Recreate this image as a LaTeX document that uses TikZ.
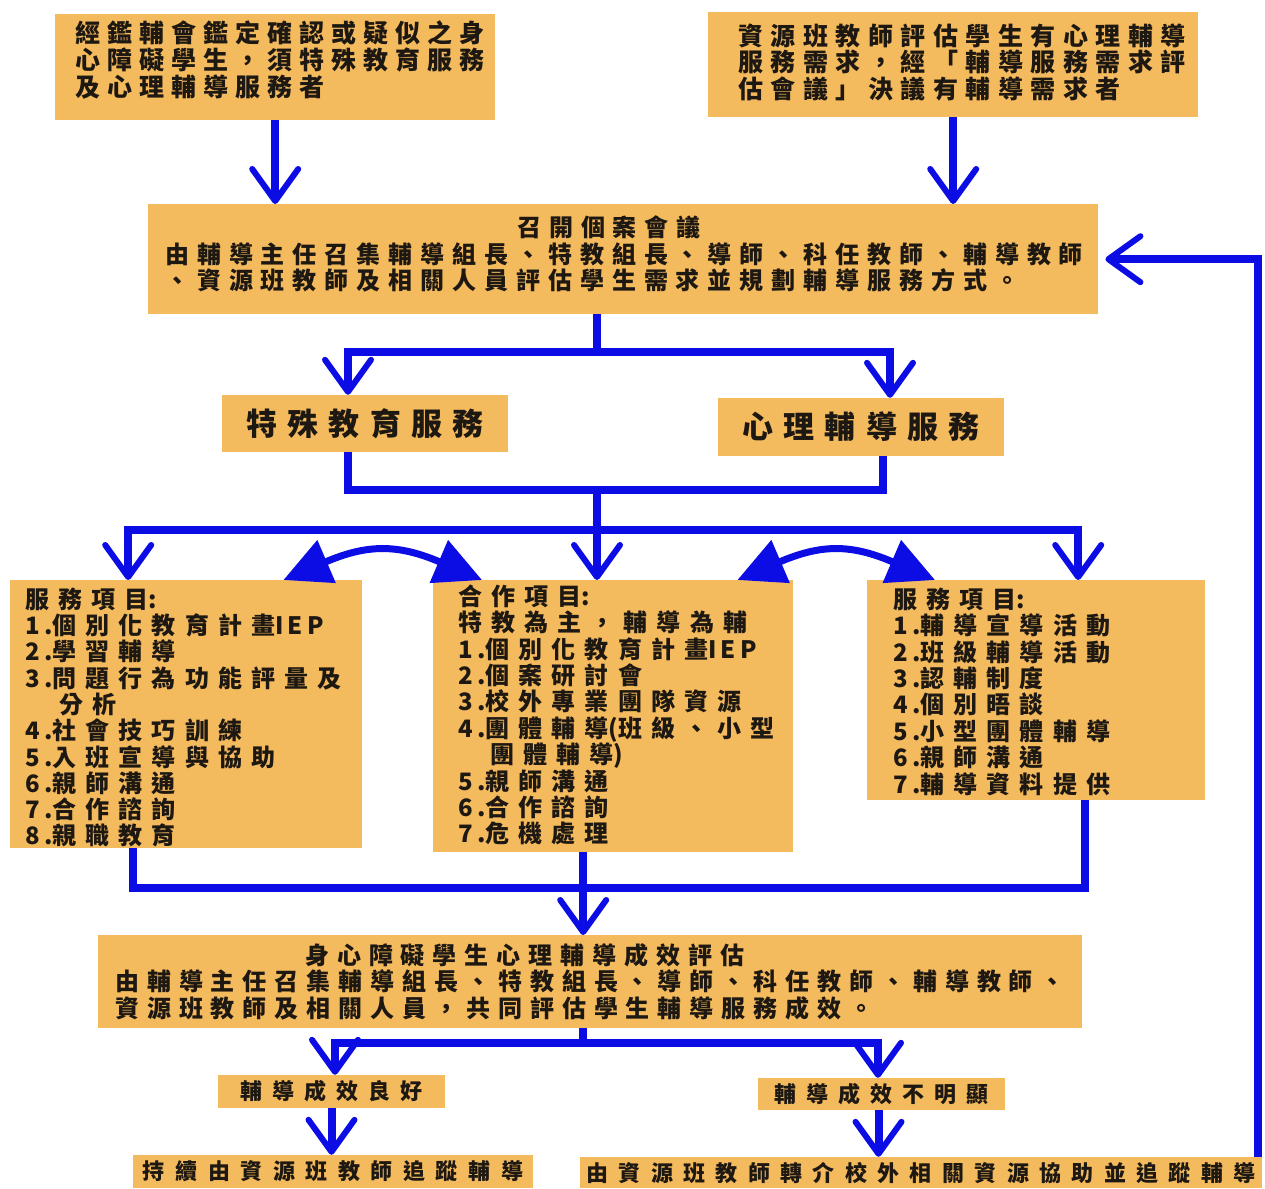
\documentclass[tikz,border=0pt]{standalone}
\usepackage{fontspec}
\usetikzlibrary{arrows.meta,calc}
\newfontfamily\cjk{Noto Sans CJK TC}
\newfontfamily\cjklat{Noto Sans CJK TC}[LetterSpace=18]
\definecolor{boxfill}{RGB}{244,186,94}
\definecolor{flowblue}{RGB}{12,12,228}
\definecolor{ink}{RGB}{30,24,18}
% font size, line distance, letter spacing
\newcommand\tsize[3]{\cjk\bfseries\fontsize{#1}{#2}\selectfont\addfontfeatures{LetterSpace=#3}}
% latin runs with tight spacing
\newcommand\lat[1]{{\cjklat\bfseries#1}}
\newcommand\ix[1]{\lat{#1.}}
% width, height, top padding, left padding, text
\newcommand\panel[5]{\parbox[c][#2][t]{#1}{\vspace*{#3}\raggedright\leftskip=#4\relax#5\par}}
\begin{document}
\begin{tikzpicture}[x=1pt,y=-1pt,
  box/.style={fill=boxfill,inner sep=0pt,text=ink},
  link/.style={draw=flowblue,line width=8pt},
  vhead/.style={link,-{Straight Barb[length=32pt,width=46pt,line width=6pt 0,round]}},
  swap/.style={draw=flowblue,line width=7pt,{Triangle[length=47pt,width=45pt]}-{Triangle[length=47pt,width=45pt]}}
]
\useasboundingbox (0,0) rectangle (1265,1188);

% entry conditions
\node[box,anchor=north west] (src1) at (55,14) {\panel{440pt}{106pt}{6.5pt}{20pt}{\tsize{25}{27}{28}經鑑輔會鑑定確認或疑似之身\\心障礙學生，須特殊教育服務\\及心理輔導服務者}};
\node[box,anchor=north west] (src2) at (708,12) {\panel{490pt}{105pt}{11.5pt}{30pt}{\tsize{25}{26.5}{30}資源班教師評估學生有心理輔導\\服務需求，經「輔導服務需求評\\估會議」決議有輔導需求者}};

% case meeting
\node[box,anchor=north west] (meet) at (148,204) {\panel{950pt}{110pt}{12pt}{17pt}{\tsize{24}{26.5}{33}\hspace*{352pt}召開個案會議\\由輔導主任召集輔導組長、特教組長、導師、科任教師、輔導教師\\、資源班教師及相關人員評估學生需求並規劃輔導服務方式。}};

% the two services
\node[box,minimum width=286pt,minimum height=57pt] (sped) at (365,423.5) {\tsize{31}{34}{33}特殊教育服務};
\node[box,minimum width=286pt,minimum height=58pt] (psy) at (861,427) {\tsize{31}{34}{33}心理輔導服務};

% service items
\node[box,anchor=north west] (svcL) at (10,580) {\panel{352pt}{268pt}{7.5pt}{15pt}{\tsize{24}{26.3}{38}服務項目\lat{:}\\\ix{1}個別化教育計畫\lat{IEP}\\\ix{2}學習輔導\\\ix{3}問題行為功能評量及\\\hspace*{34pt}分析\\\ix{4}社會技巧訓練\\\ix{5}入班宣導與協助\\\ix{6}親師溝通\\\ix{7}合作諮詢\\\ix{8}親職教育}};
\node[box,anchor=north west] (coop) at (433,580) {\panel{360pt}{272pt}{4.5pt}{25pt}{\tsize{24}{26.4}{38}合作項目\lat{:}\\特教為主，輔導為輔\\\ix{1}個別化教育計畫\lat{IEP}\\\ix{2}個案研討會\\\ix{3}校外專業團隊資源\\\ix{4}團體輔導\lat{(}班級、小型\\\hspace*{32pt}團體輔導\lat{)}\\\ix{5}親師溝通\\\ix{6}合作諮詢\\\ix{7}危機處理}};
\node[box,anchor=north west] (svcR) at (867,580) {\panel{338pt}{220pt}{7.5pt}{26pt}{\tsize{24}{26.4}{38}服務項目\lat{:}\\\ix{1}輔導宣導活動\\\ix{2}班級輔導活動\\\ix{3}認輔制度\\\ix{4}個別晤談\\\ix{5}小型團體輔導\\\ix{6}親師溝通\\\ix{7}輔導資料提供}};

% evaluation and outcomes
\node[box,anchor=north west] (eval) at (98,935) {\panel{984pt}{93pt}{8pt}{17pt}{\tsize{24}{26.5}{33}\hspace*{190pt}身心障礙學生心理輔導成效評估\\由輔導主任召集輔導組長、特教組長、導師、科任教師、輔導教師、\\資源班教師及相關人員，共同評估學生輔導服務成效。}};
\node[box,minimum width=227pt,minimum height=33pt] (good) at (331.5,1091.5) {\tsize{22}{24}{45}輔導成效良好};
\node[box,minimum width=247pt,minimum height=32pt] (weak) at (881.5,1094) {\tsize{22}{24}{45}輔導成效不明顯};
\node[box,minimum width=400pt,minimum height=33pt] (keep) at (333,1171.5) {\tsize{22}{25}{48}持續由資源班教師追蹤輔導};
\node[box,minimum width=682pt,minimum height=31pt] (refer) at (921,1172.5) {\tsize{22}{25}{47}由資源班教師轉介校外相關資源協助並追蹤輔導};

% inputs to the case meeting
\draw[vhead] (src1.south) -- (src1.south |- meet.north);
\draw[vhead] (src2.south) -- (src2.south |- meet.north);

% case meeting splits into both services
\draw[link] ([xshift=-26pt]meet.south) -- ++(0,38) coordinate (m1);
\draw[vhead] (m1) -| ([xshift=-17pt]sped.north);
\draw[vhead] (m1) -| ([xshift=29pt]psy.north);

% services merge and fan out to the item lists
\coordinate (m2) at (597,490);
\draw[link] ([xshift=-17pt]sped.south) |- (m2);
\draw[link] ([xshift=22pt]psy.south) |- (m2);
\draw[link] (m2) -- ++(0,40) coordinate (m3);
\draw[vhead] (m3) -| ([xshift=-58pt]svcL.north);
\draw[vhead] (m3) -- (m3 |- coop.north);
\draw[vhead] (m3) -| ([xshift=42pt]svcR.north);

% two-way cooperation
\draw[swap] ([xshift=-79pt]svcL.north east) .. controls +(84,-36) and +(-84,-36) .. ([xshift=49pt]coop.north west);
\draw[swap] ([xshift=-56pt]coop.north east) .. controls +(84,-36) and +(-84,-36) .. ([xshift=68pt]svcR.north west);

% all items feed the evaluation
\coordinate (m4) at (583,888);
\draw[link] ([xshift=-53pt]svcL.south) |- (m4);
\draw[link] ([xshift=49pt]svcR.south) |- (m4);
\draw[vhead] ([xshift=-30pt]coop.south) -- ([xshift=-7pt]eval.north);

% evaluation outcomes
\draw[link] ([xshift=-7pt]eval.south) -- ++(0,15) coordinate (m5);
\draw[vhead] (m5) -| ([xshift=3.5pt]good.north);
\draw[vhead] (m5) -| ([xshift=-3.5pt]weak.north);
\draw[vhead] (good.south) -- (good.south |- keep.north);
\draw[vhead] ([xshift=-3pt]weak.south) -- ([xshift=-3pt]weak.south |- refer.north);

% unresolved cases return to the case meeting
\draw[vhead] ([xshift=-4pt]refer.north east) |- ([xshift=7pt]meet.east);
\end{tikzpicture}
\end{document}
